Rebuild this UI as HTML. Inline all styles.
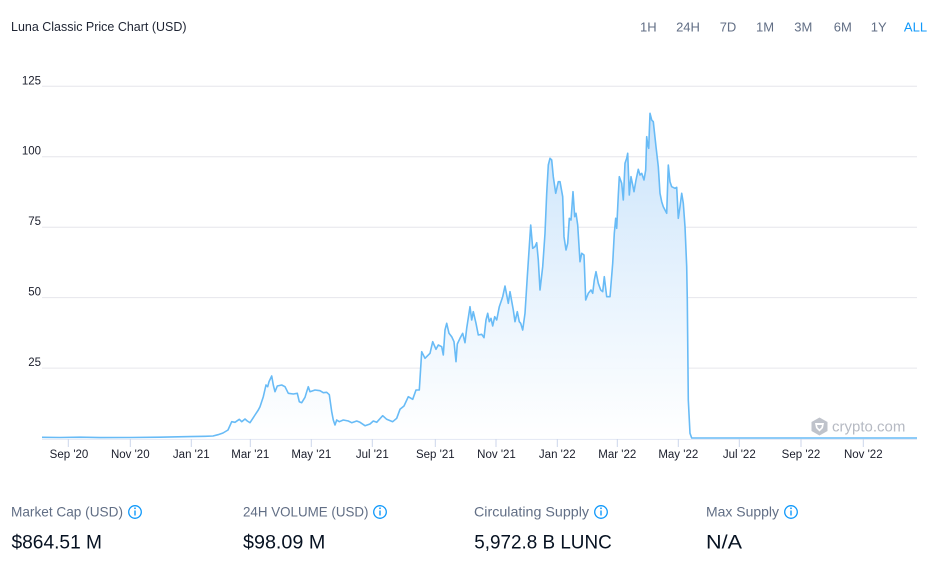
<!DOCTYPE html>
<html>
<head>
<meta charset="utf-8">
<style>
html,body{margin:0;padding:0;background:#fff;}
body{width:933px;height:566px;overflow:hidden;}
svg{display:block;font-family:"Liberation Sans",sans-serif;}
</style>
</head>
<body>
<svg width="933" height="566" viewBox="0 0 933 566" xmlns="http://www.w3.org/2000/svg">
<defs>
<linearGradient id="g" x1="0" y1="0" x2="0" y2="1">
<stop offset="0" stop-color="#c9e3fb"/>
<stop offset="1" stop-color="#ffffff" stop-opacity="0.9"/>
</linearGradient>
</defs>
<rect width="933" height="566" fill="#fff"/>

<!-- Title -->
<text x="11" y="31" font-size="13" fill="#1e2433" textLength="175.5" lengthAdjust="spacingAndGlyphs">Luna Classic Price Chart (USD)</text>

<!-- Range buttons -->
<g font-size="13" fill="#616e85" text-anchor="middle">
<text x="648.3" y="31.3">1H</text>
<text x="688" y="31.3">24H</text>
<text x="728" y="31.3">7D</text>
<text x="765" y="31.3">1M</text>
<text x="803.3" y="31.3">3M</text>
<text x="842.8" y="31.3">6M</text>
<text x="878.7" y="31.3">1Y</text>
<text x="915.5" y="31.3" fill="#1199fa">ALL</text>
</g>

<!-- Gridlines -->
<g stroke="#e6e6ec" stroke-width="1">
<line x1="42" y1="86.3" x2="917" y2="86.3"/>
<line x1="42" y1="156.7" x2="917" y2="156.7"/>
<line x1="42" y1="227.2" x2="917" y2="227.2"/>
<line x1="42" y1="297.6" x2="917" y2="297.6"/>
<line x1="42" y1="368.1" x2="917" y2="368.1"/>
</g>

<!-- Y labels -->
<g font-size="11.5" fill="#1a1d2b" text-anchor="end">
<text x="41" y="84.3">125</text>
<text x="41" y="154.7">100</text>
<text x="41" y="225.2">75</text>
<text x="41" y="295.6">50</text>
<text x="41" y="366.1">25</text>
</g>

<!-- X axis -->
<line x1="42" y1="439" x2="917" y2="439" stroke="#ccd6eb" stroke-width="1"/>
<g stroke="#ccd6eb" stroke-width="1">
<line x1="68.3" y1="439" x2="68.3" y2="447"/>
<line x1="130.3" y1="439" x2="130.3" y2="447"/>
<line x1="191.3" y1="439" x2="191.3" y2="447"/>
<line x1="250.3" y1="439" x2="250.3" y2="447"/>
<line x1="311.3" y1="439" x2="311.3" y2="447"/>
<line x1="372.3" y1="439" x2="372.3" y2="447"/>
<line x1="435.3" y1="439" x2="435.3" y2="447"/>
<line x1="496" y1="439" x2="496" y2="447"/>
<line x1="557.3" y1="439" x2="557.3" y2="447"/>
<line x1="617.3" y1="439" x2="617.3" y2="447"/>
<line x1="678.3" y1="439" x2="678.3" y2="447"/>
<line x1="739.3" y1="439" x2="739.3" y2="447"/>
<line x1="801" y1="439" x2="801" y2="447"/>
<line x1="863.3" y1="439" x2="863.3" y2="447"/>
</g>
<g font-size="11.5" fill="#1a1d2b" text-anchor="middle">
<text x="69" y="458">Sep '20</text>
<text x="130.3" y="458">Nov '20</text>
<text x="191.3" y="458">Jan '21</text>
<text x="250.3" y="458">Mar '21</text>
<text x="311.3" y="458">May '21</text>
<text x="372.3" y="458">Jul '21</text>
<text x="435.3" y="458">Sep '21</text>
<text x="496.5" y="458">Nov '21</text>
<text x="557.3" y="458">Jan '22</text>
<text x="617.3" y="458">Mar '22</text>
<text x="678.3" y="458">May '22</text>
<text x="739.3" y="458">Jul '22</text>
<text x="801" y="458">Sep '22</text>
<text x="863.3" y="458">Nov '22</text>
</g>

<!-- Series -->
<path fill="url(#g)" stroke="none" d="M42,437.3 L60,437.5 L80,437.2 L100,437.6 L130,437.5 L160,437.2 L190,436.6 L205,436.3 L213,436 L218,434.7 L223,433 L228,430 L231.7,421.7 L235,422.3 L239.3,419.3 L241.7,421.7 L245,419 L247.3,421 L250,422.7 L255,415 L258.3,410 L260,406.7 L263.3,396.7 L266,385 L267.7,386.7 L269,381.7 L271.7,376 L273.3,385 L275,391.7 L277.3,386 L281.7,385 L285,386.7 L288.3,393.3 L293.3,394 L297.3,393.3 L299.3,401.7 L301.7,402.7 L305,397.3 L306.7,391.7 L308.3,386.7 L310,391.7 L315,390 L320,390.7 L323.3,392.7 L326.7,392.3 L329.3,394.7 L331.7,411.7 L333.3,420 L335,425 L336.7,420 L339.3,421.7 L343.3,420 L348.3,421 L351.7,422.7 L356.7,421 L360,422.3 L365,425.7 L370,424 L373.3,421 L376.7,422.3 L382.7,415.7 L386.7,419.3 L392.7,421.7 L396.7,418.3 L400,409.3 L404,406 L408.3,396.7 L412.7,399.3 L416,390 L419.3,390 L421.7,351.7 L425,358.3 L430,353.3 L432.7,341.7 L436,349.3 L438.3,345 L441.7,346.7 L443.3,355 L445,330 L446.7,323.3 L449,333.3 L451.7,336.7 L454,341.7 L456,361.7 L457.3,344 L460,338.3 L462.7,333.3 L465,342.7 L466.7,328.3 L470,306.7 L471.7,320 L473.3,311.7 L476,323.3 L478.3,335 L481.7,334.3 L484,337.7 L486,320 L487.7,313.3 L489.3,321.7 L491,318.3 L492.7,326 L494.7,316.7 L496.7,320 L499.3,306.7 L502.7,296.7 L505,286 L506.7,295 L508.3,303.3 L510,291.7 L513.3,310 L515,321.7 L517.3,311.7 L519.3,321.7 L520.7,323.3 L522.7,330 L525,313.3 L527.3,276.7 L530.7,225 L532.7,248.3 L535,246.7 L536.7,242.7 L538.3,260 L540,290 L542.7,266.7 L545,233.3 L546.7,193.3 L548.3,165 L550,158.3 L551.7,160 L553.3,176.7 L555.7,193.3 L558.3,181.7 L560,181.7 L562.7,196.7 L564,236.7 L566,250 L567.7,243.3 L569.3,218.3 L571,220 L573,191.7 L574.7,216.7 L576,213.3 L577.7,225 L580,261.7 L581.7,253.3 L584,255 L585.7,300 L588.3,293.3 L591,290 L592.7,293.3 L594.3,280 L596,271.7 L598.3,283.3 L600.7,290 L602.7,291.7 L604.3,276.7 L606.7,296.7 L610,296.7 L612.7,263.3 L614.3,233.3 L615.7,218.3 L616.7,228.3 L618.3,195 L619.3,176.7 L621.7,183.3 L623.3,200 L625,163.3 L626.7,158.3 L627.7,153.3 L629.3,195 L631,176.7 L632.7,185 L634,191.7 L636,180 L638.3,169.3 L640,175 L641.7,173.3 L644,180 L645.7,170 L646.7,136.7 L647.7,145 L648.7,148.3 L650,113.3 L651.7,120 L653.3,121.7 L656,146.7 L658.3,166.7 L660,193.3 L661.7,201.7 L663.3,206.7 L665,210 L666.7,213.3 L668.3,165 L670,181.7 L671.7,186.7 L675,188.3 L676.7,187.3 L678.3,218.3 L680,206.7 L681.7,193.3 L683.3,203.3 L685,226.7 L686.7,266.7 L687.3,300 L688.3,400 L690,433.3 L691.7,438 L917,438 L917,439 L42,439 Z"/>
<path fill="none" stroke="#68bbf6" stroke-width="1.6" stroke-linejoin="round" d="M42,437.3 L60,437.5 L80,437.2 L100,437.6 L130,437.5 L160,437.2 L190,436.6 L205,436.3 L213,436 L218,434.7 L223,433 L228,430 L231.7,421.7 L235,422.3 L239.3,419.3 L241.7,421.7 L245,419 L247.3,421 L250,422.7 L255,415 L258.3,410 L260,406.7 L263.3,396.7 L266,385 L267.7,386.7 L269,381.7 L271.7,376 L273.3,385 L275,391.7 L277.3,386 L281.7,385 L285,386.7 L288.3,393.3 L293.3,394 L297.3,393.3 L299.3,401.7 L301.7,402.7 L305,397.3 L306.7,391.7 L308.3,386.7 L310,391.7 L315,390 L320,390.7 L323.3,392.7 L326.7,392.3 L329.3,394.7 L331.7,411.7 L333.3,420 L335,425 L336.7,420 L339.3,421.7 L343.3,420 L348.3,421 L351.7,422.7 L356.7,421 L360,422.3 L365,425.7 L370,424 L373.3,421 L376.7,422.3 L382.7,415.7 L386.7,419.3 L392.7,421.7 L396.7,418.3 L400,409.3 L404,406 L408.3,396.7 L412.7,399.3 L416,390 L419.3,390 L421.7,351.7 L425,358.3 L430,353.3 L432.7,341.7 L436,349.3 L438.3,345 L441.7,346.7 L443.3,355 L445,330 L446.7,323.3 L449,333.3 L451.7,336.7 L454,341.7 L456,361.7 L457.3,344 L460,338.3 L462.7,333.3 L465,342.7 L466.7,328.3 L470,306.7 L471.7,320 L473.3,311.7 L476,323.3 L478.3,335 L481.7,334.3 L484,337.7 L486,320 L487.7,313.3 L489.3,321.7 L491,318.3 L492.7,326 L494.7,316.7 L496.7,320 L499.3,306.7 L502.7,296.7 L505,286 L506.7,295 L508.3,303.3 L510,291.7 L513.3,310 L515,321.7 L517.3,311.7 L519.3,321.7 L520.7,323.3 L522.7,330 L525,313.3 L527.3,276.7 L530.7,225 L532.7,248.3 L535,246.7 L536.7,242.7 L538.3,260 L540,290 L542.7,266.7 L545,233.3 L546.7,193.3 L548.3,165 L550,158.3 L551.7,160 L553.3,176.7 L555.7,193.3 L558.3,181.7 L560,181.7 L562.7,196.7 L564,236.7 L566,250 L567.7,243.3 L569.3,218.3 L571,220 L573,191.7 L574.7,216.7 L576,213.3 L577.7,225 L580,261.7 L581.7,253.3 L584,255 L585.7,300 L588.3,293.3 L591,290 L592.7,293.3 L594.3,280 L596,271.7 L598.3,283.3 L600.7,290 L602.7,291.7 L604.3,276.7 L606.7,296.7 L610,296.7 L612.7,263.3 L614.3,233.3 L615.7,218.3 L616.7,228.3 L618.3,195 L619.3,176.7 L621.7,183.3 L623.3,200 L625,163.3 L626.7,158.3 L627.7,153.3 L629.3,195 L631,176.7 L632.7,185 L634,191.7 L636,180 L638.3,169.3 L640,175 L641.7,173.3 L644,180 L645.7,170 L646.7,136.7 L647.7,145 L648.7,148.3 L650,113.3 L651.7,120 L653.3,121.7 L656,146.7 L658.3,166.7 L660,193.3 L661.7,201.7 L663.3,206.7 L665,210 L666.7,213.3 L668.3,165 L670,181.7 L671.7,186.7 L675,188.3 L676.7,187.3 L678.3,218.3 L680,206.7 L681.7,193.3 L683.3,203.3 L685,226.7 L686.7,266.7 L687.3,300 L688.3,400 L690,433.3 L691.7,438 L917,438"/>

<!-- crypto.com watermark -->
<g fill="#bfc3cb">
<path d="M819.5,417.5 L827.5,422 L827.5,431 L819.5,435.5 L811.5,431 L811.5,422 Z"/>
<path d="M815,423 L824,423 L823,428 L819.5,431.5 L816,428 Z" fill="#ffffff"/>
<path d="M817,425 L822,425 L821.3,427.5 L819.5,429.3 L817.7,427.5 Z" fill="#bfc3cb"/>
</g>
<text x="832" y="431.5" font-size="15" fill="#b6bac3">crypto.com</text>

<!-- Bottom stats -->
<g font-size="13.6" fill="#616e85">
<text x="11" y="516.5" textLength="112" lengthAdjust="spacingAndGlyphs">Market Cap (USD)</text>
<text x="243" y="516.5" textLength="125.5" lengthAdjust="spacingAndGlyphs">24H VOLUME (USD)</text>
<text x="474" y="516.5" textLength="115" lengthAdjust="spacingAndGlyphs">Circulating Supply</text>
<text x="706" y="516.5" textLength="73" lengthAdjust="spacingAndGlyphs">Max Supply</text>
</g>
<g fill="none" stroke="#1199fa" stroke-width="1.3">
<circle cx="135" cy="512" r="6.3"/>
<circle cx="380" cy="512" r="6.3"/>
<circle cx="601" cy="512" r="6.3"/>
<circle cx="791" cy="512" r="6.3"/>
</g>
<g fill="#1199fa">
<rect x="134.3" y="510.5" width="1.4" height="5"/><circle cx="135" cy="508.3" r="0.9"/>
<rect x="379.3" y="510.5" width="1.4" height="5"/><circle cx="380" cy="508.3" r="0.9"/>
<rect x="600.3" y="510.5" width="1.4" height="5"/><circle cx="601" cy="508.3" r="0.9"/>
<rect x="790.3" y="510.5" width="1.4" height="5"/><circle cx="791" cy="508.3" r="0.9"/>
</g>
<g font-size="19" fill="#061121">
<text x="11.5" y="548.5" textLength="90.5" lengthAdjust="spacingAndGlyphs">$864.51 M</text>
<text x="243" y="548.5" textLength="82.3" lengthAdjust="spacingAndGlyphs">$98.09 M</text>
<text x="474.3" y="548.5" textLength="137.4" lengthAdjust="spacingAndGlyphs">5,972.8 B LUNC</text>
<text x="706" y="548.5" textLength="36" lengthAdjust="spacingAndGlyphs">N/A</text>
</g>
</svg>
</body>
</html>
